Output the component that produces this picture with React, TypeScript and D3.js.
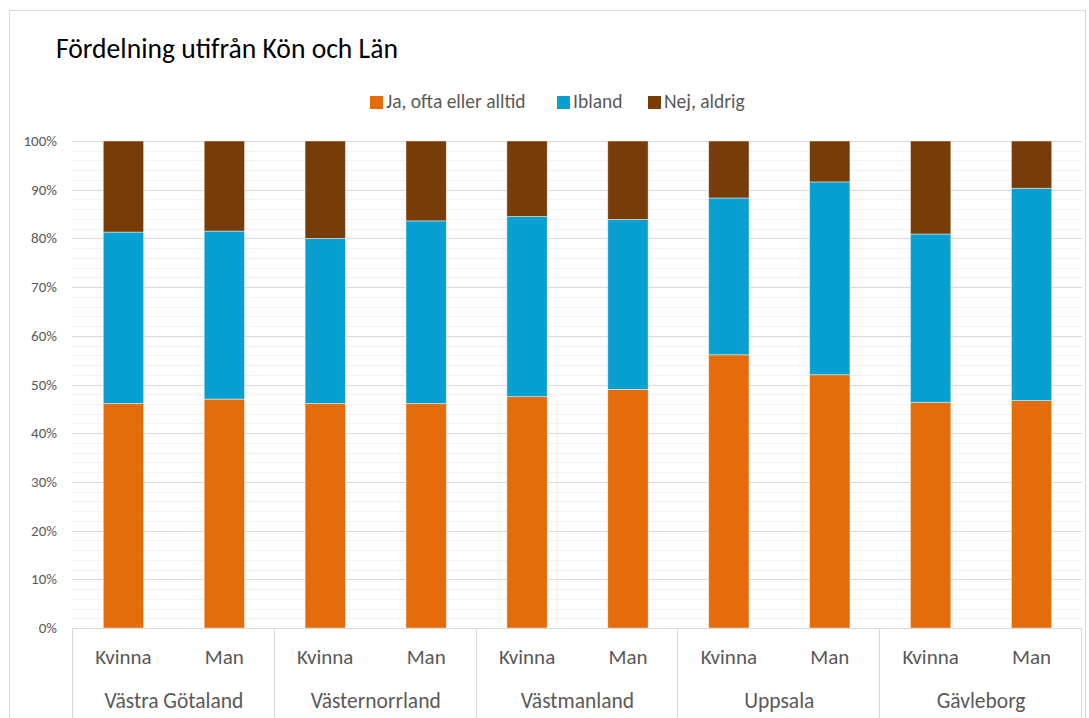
import React from "react";
import * as d3 from "d3";

const regions = ["Västra Götaland", "Västernorrland", "Västmanland", "Uppsala", "Gävleborg"];
const genders = ["Kvinna", "Man"];
const seriesNames = ["Ja, ofta eller alltid", "Ibland", "Nej, aldrig"];
const seriesColors = ["#E46C0A", "#08A0D0", "#783C08"];
// values in %, order: VG K, VG M, VN K, VN M, VM K, VM M, U K, U M, G K, G M
const jaValues = [46.1, 47.0, 46.1, 46.1, 47.5, 49.0, 56.1, 52.0, 46.3, 46.7];
const iblandValues = [35.2, 34.5, 33.9, 37.5, 37.0, 34.9, 32.2, 39.6, 34.6, 43.6];
const nejValues = [18.7, 18.5, 20.0, 16.4, 15.5, 16.1, 11.7, 8.4, 19.1, 9.7];
const yTicks = [0, 10, 20, 30, 40, 50, 60, 70, 80, 90, 100];

const W = 1089;
const H = 718;
const FONT = "Carlito, Lato, 'Liberation Sans', sans-serif";

export default function App() {
  const left = 73, right = 1082, top = 141, bottom = 628;
  const keys = regions.flatMap((r, i) => genders.map((g) => `${i}-${g}`));
  const x = d3.scaleBand<string>().domain(keys).range([left, right]).paddingInner(0.6).paddingOuter(0.3);
  const y = d3.scaleLinear().domain([0, 100]).range([bottom, top]);
  const rows = keys.map((k, i) => ({ key: k, s0: jaValues[i], s1: iblandValues[i], s2: nejValues[i] }));
  const stack = d3.stack<any>().keys(["s0", "s1", "s2"]);
  const stacked = stack(rows);
  const minor = d3.range(0, 101, 2).filter((v) => v % 10 !== 0);
  const groupW = (right - left) / regions.length;
  const legendItems = [
    { x: 370, label: seriesNames[0] },
    { x: 557, label: seriesNames[1] },
    { x: 648, label: seriesNames[2] },
  ];
  return (
    <svg width={W} height={H} style={{ position: "absolute", left: 0, top: 0, background: "#fff" }} fontFamily={FONT}>
      <rect x={9.5} y={10.5} width={1076} height={720} fill="#fff" stroke="#d9d9d9" />
      <text x={56} y={58} fontSize={27.6} fill="#000">Fördelning utifrån Kön och Län</text>
      {legendItems.map((l, i) => (
        <g key={i}>
          <rect x={l.x} y={96} width={13} height={13} fill={seriesColors[i]} />
          <text x={l.x + 16} y={108} fontSize={19.5} fill="#595959">{l.label}</text>
        </g>
      ))}
      {minor.map((v) => (
        <line key={"m" + v} x1={left - 1} x2={right} y1={Math.round(y(v)) + 0.5} y2={Math.round(y(v)) + 0.5} stroke="#f2f2f2" />
      ))}
      {yTicks.map((v) => (
        <g key={"t" + v}>
          <line x1={left - 1} x2={right} y1={Math.round(y(v)) + 0.5} y2={Math.round(y(v)) + 0.5} stroke="#d9d9d9" />
          <text x={57} y={y(v) + 5} fontSize={15} fill="#595959" textAnchor="end">{v}%</text>
        </g>
      ))}
      {stacked.map((layer, si) => (
        <g key={si} fill={seriesColors[si]}>
          {layer.map((d, i) => (
            <rect
              key={i}
              x={x(keys[i])!}
              y={y(d[1])}
              width={x.bandwidth()}
              height={y(d[0]) - y(d[1])}
              stroke="#fff"
              strokeOpacity={0.6}
              strokeWidth={0.75}
            />
          ))}
        </g>
      ))}
      <line x1={left - 1} x2={right} y1={bottom + 0.5} y2={bottom + 0.5} stroke="#d9d9d9" />
      {d3.range(regions.length + 1).map((i) => (
        <line key={"s" + i} x1={Math.round(left - 1 + i * groupW) + 0.5} x2={Math.round(left - 1 + i * groupW) + 0.5} y1={bottom} y2={H} stroke="#d9d9d9" />
      ))}
      {keys.map((k, i) => (
        <text key={"g" + k} x={x(k)! + x.bandwidth() / 2} y={664} fontSize={21} fill="#595959" textAnchor="middle">
          {genders[i % 2]}
        </text>
      ))}
      {regions.map((r, i) => (
        <text key={"r" + r} x={left + (i + 0.5) * groupW} y={708} fontSize={21.5} fill="#595959" textAnchor="middle">
          {r}
        </text>
      ))}
    </svg>
  );
}
